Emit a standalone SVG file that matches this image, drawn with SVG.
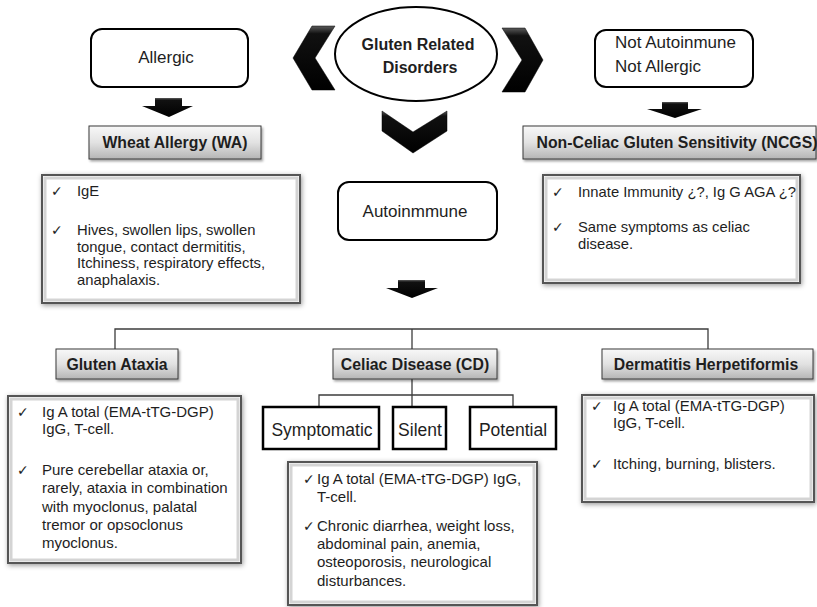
<svg xmlns="http://www.w3.org/2000/svg" width="817" height="607" viewBox="0 0 817 607">
<defs>
<linearGradient id="gbox" x1="0" y1="0" x2="0" y2="1">
<stop offset="0" stop-color="#f8f8f8"/>
<stop offset="0.5" stop-color="#e2e2e2"/>
<stop offset="1" stop-color="#b5b5b5"/>
</linearGradient>
<linearGradient id="gblk" x1="0" y1="0" x2="0" y2="1">
<stop offset="0" stop-color="#5a5a5a"/>
<stop offset="0.12" stop-color="#111"/>
<stop offset="1" stop-color="#000"/>
</linearGradient>
<filter id="sh" x="-10%" y="-20%" width="130%" height="160%">
<feDropShadow dx="1.5" dy="2" stdDeviation="1.3" flood-color="#000" flood-opacity="0.35"/>
</filter>
<filter id="sh2" x="-10%" y="-10%" width="120%" height="120%">
<feDropShadow dx="1" dy="1.5" stdDeviation="2.5" flood-color="#000" flood-opacity="0.4"/>
</filter>
<style>
.rnode{fill:#fff;stroke:#000;stroke-width:2}
.ell{fill:#fff;stroke:#000;stroke-width:2}
.gbox{fill:url(#gbox);stroke:#3a3a3a;stroke-width:1;filter:url(#sh)}
.cbox{fill:#fff;stroke:#555;stroke-width:2;filter:url(#sh2)}
.cin{fill:none;stroke:#d4d4d4;stroke-width:3}
.sbox{fill:#fff;stroke:#000;stroke-width:2.5}
.conn{stroke:#3c3c3c;stroke-width:1.3;fill:none}
.chev{fill:url(#gblk);stroke:#000;stroke-width:0.5}
.barrow{fill:url(#gblk)}
text{font-family:"Liberation Sans",Arial,sans-serif;fill:#1e1e1e}
.lbl{font-size:17px}
.ttl{font-size:15.8px;font-weight:bold}
.body{font-size:14.8px}
.chk{font-family:"DejaVu Sans",sans-serif;font-size:14px}
.mid{text-anchor:middle}
</style>
</defs>
<rect width="817" height="607" fill="#fff"/>

<g id="connectors">
<polyline class="conn" points="115,349 115,329 708,329 708,349"/>
<line class="conn" x1="412" y1="329" x2="412" y2="349"/>
<line class="conn" x1="412" y1="379" x2="412" y2="407"/>
<polyline class="conn" points="319,407 319,395 513,395 513,407"/>
<polygon class="chev" points="312,26 335,26 315,58 335,90 312,90 293,58"/>
<polygon class="chev" points="502,28 525,28 543,60 525,92 502,92 522,60"/>
<polygon class="chev" points="382,111 413,132 447,111 447,131 413,153 382,131"/>
<polygon class="barrow" points="155,98 182,98 182,106 193,106 169,117 142,106 155,106"/>
<polygon class="barrow" points="662,102 688,102 688,109 702,109 675,118 647,109 662,109"/>
<polygon class="barrow" points="398,280 425,280 425,288 438,288 412,298 386,288 398,288"/>
</g>

<g id="root">
<ellipse class="ell" cx="416" cy="54" rx="81" ry="47"/>
<text class="ttl mid" x="418" y="49.5" style="font-size:16px">Gluten Related</text>
<text class="ttl mid" x="420" y="73" style="font-size:16px">Disorders</text>
</g>

<g id="allergic">
<rect class="rnode" x="91" y="29" width="157" height="58" rx="11"/>
<text class="lbl mid" x="166" y="62.5">Allergic</text>
</g>

<g id="not-autoimmune">
<rect class="rnode" x="595" y="30" width="158" height="57" rx="11"/>
<text class="lbl" x="615" y="48">Not Autoinmune</text>
<text class="lbl" x="615" y="72">Not Allergic</text>
</g>

<g id="autoimmune">
<rect class="rnode" x="338" y="182" width="159" height="58" rx="11"/>
<text class="lbl mid" x="415" y="217">Autoinmmune</text>
</g>

<g id="wa">
<rect class="gbox" x="89" y="126" width="172" height="33"/>
<text class="ttl mid" x="175" y="148">Wheat Allergy (WA)</text>
</g>

<g id="ncgs">
<rect class="gbox" x="523" y="126" width="293" height="33"/>
<text class="ttl mid" x="677" y="148">Non-Celiac Gluten Sensitivity (NCGS)</text>
</g>

<g id="wa-info">
<rect class="cbox" x="42" y="175" width="258" height="128"/>
<rect class="cin" x="45" y="178" width="252" height="122"/>
<text class="chk" x="51" y="196">✓</text>
<text class="body" x="77" y="196">IgE</text>
<text class="chk" x="51" y="235">✓</text>
<text class="body" x="77" y="235">Hives, swollen lips, swollen</text>
<text class="body" x="77" y="251.5">tongue, contact dermititis,</text>
<text class="body" x="77" y="268">Itchiness, respiratory effects,</text>
<text class="body" x="77" y="284.5">anaphalaxis.</text>
</g>

<g id="ncgs-info">
<rect class="cbox" x="543" y="175" width="257" height="108"/>
<rect class="cin" x="546" y="178" width="251" height="102"/>
<text class="chk" x="552" y="197">✓</text>
<text class="body" x="578" y="197">Innate Immunity ¿?, Ig G AGA ¿?</text>
<text class="chk" x="552" y="232">✓</text>
<text class="body" x="578" y="232">Same symptoms as celiac</text>
<text class="body" x="578" y="249">disease.</text>
</g>

<g id="gluten-ataxia">
<rect class="gbox" x="56" y="349" width="122" height="30"/>
<text class="ttl mid" x="117" y="370">Gluten Ataxia</text>
</g>

<g id="celiac">
<rect class="gbox" x="333" y="349" width="164" height="30"/>
<text class="ttl mid" x="415" y="370">Celiac Disease (CD)</text>
</g>

<g id="dh">
<rect class="gbox" x="602" y="349" width="211" height="30"/>
<text class="ttl mid" x="706" y="370">Dermatitis Herpetiformis</text>
</g>

<g id="symptomatic">
<rect class="sbox" x="263" y="407" width="116" height="42"/>
<text class="lbl mid" x="322" y="436" style="font-size:17.5px">Symptomatic</text>
</g>
<g id="silent">
<rect class="sbox" x="393" y="407" width="53" height="42"/>
<text class="lbl mid" x="420" y="436" style="font-size:17.5px">Silent</text>
</g>
<g id="potential">
<rect class="sbox" x="470" y="407" width="86" height="42"/>
<text class="lbl mid" x="513" y="436" style="font-size:17.5px">Potential</text>
</g>

<g id="ga-info">
<rect class="cbox" x="8" y="396" width="233" height="167"/>
<rect class="cin" x="11" y="399" width="227" height="161"/>
<text class="chk" x="17" y="417">✓</text>
<text class="body" x="42" y="417" style="font-size:15px">Ig A total (EMA-tTG-DGP)</text>
<text class="body" x="42" y="434" style="font-size:15px">IgG, T-cell.</text>
<text class="chk" x="17" y="475">✓</text>
<text class="body" x="42" y="475" style="font-size:15px">Pure cerebellar ataxia or,</text>
<text class="body" x="42" y="493" style="font-size:15px">rarely, ataxia in combination</text>
<text class="body" x="42" y="511.5" style="font-size:15px">with myoclonus, palatal</text>
<text class="body" x="42" y="530" style="font-size:15px">tremor or opsoclonus</text>
<text class="body" x="42" y="548" style="font-size:15px">myoclonus.</text>
</g>

<g id="cd-info">
<rect class="cbox" x="288" y="462" width="249" height="143"/>
<rect class="cin" x="291" y="465" width="243" height="137"/>
<text class="chk" x="303" y="484">✓</text>
<text class="body" x="317" y="484" style="font-size:15px">Ig A total (EMA-tTG-DGP) IgG,</text>
<text class="body" x="317" y="502" style="font-size:15px">T-cell.</text>
<text class="chk" x="303" y="530.5">✓</text>
<text class="body" x="317" y="530.5" style="font-size:15px">Chronic diarrhea, weight loss,</text>
<text class="body" x="317" y="549" style="font-size:15px">abdominal pain, anemia,</text>
<text class="body" x="317" y="567" style="font-size:15px">osteoporosis, neurological</text>
<text class="body" x="317" y="585.5" style="font-size:15px">disturbances.</text>
</g>

<g id="dh-info">
<rect class="cbox" x="582" y="395" width="232" height="107"/>
<rect class="cin" x="585" y="398" width="226" height="101"/>
<text class="chk" x="591" y="411">✓</text>
<text class="body" x="613" y="411" style="font-size:15px">Ig A total (EMA-tTG-DGP)</text>
<text class="body" x="613" y="428" style="font-size:15px">IgG, T-cell.</text>
<text class="chk" x="591" y="469">✓</text>
<text class="body" x="613" y="469" style="font-size:15px">Itching, burning, blisters.</text>
</g>
</svg>
